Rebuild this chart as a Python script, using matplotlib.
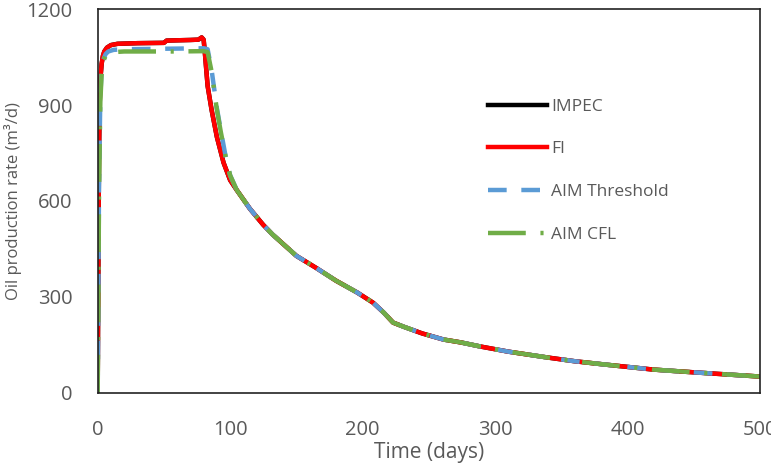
import numpy as np
import matplotlib
matplotlib.use("Agg")
import matplotlib.pyplot as plt

plt.rcParams['font.family'] = ['Open Sans', 'DejaVu Sans']

# shared decline tail (days, m3/d)
t_tail = [105, 115, 125, 132, 150, 165, 180, 196, 208, 216, 223, 231, 245, 261,
          274, 289, 310, 339, 360, 382, 419, 440, 462, 500]
v_tail = [634, 575, 525, 495, 428, 390, 350, 313, 281, 250, 219, 206, 185, 166,
          157, 144, 128, 110, 98, 88, 72, 66, 60, 50]

# IMPEC / FI head
t_fi = [0, 0.5, 1, 1.5, 2, 3, 4, 5, 7, 10, 15, 30, 50, 52, 60, 70, 76, 78.5,
        80, 81, 83, 86, 90, 95, 100]
v_fi = [0, 400, 750, 900, 980, 1030, 1055, 1068, 1080, 1088, 1092, 1094, 1095,
        1102, 1103, 1104, 1105, 1112, 1105, 1060, 960, 885, 800, 720, 665]

# AIM Threshold head
t_thr = [0, 0.5, 1, 2, 3, 4, 6, 8, 12, 20, 40, 60, 80, 83, 86, 88, 90, 93, 97, 100]
v_thr = [0, 300, 650, 930, 1010, 1040, 1060, 1068, 1073, 1075, 1076, 1077, 1078,
         1075, 1010, 950, 890, 820, 730, 680]

# AIM CFL head
t_cfl = [0, 0.5, 1, 2, 3, 4, 6, 8, 12, 20, 40, 60, 80, 83, 86, 88, 90, 93, 97, 100]
v_cfl = [0, 280, 620, 910, 1000, 1035, 1055, 1062, 1066, 1068, 1068, 1068, 1069,
         1066, 1005, 945, 885, 815, 730, 680]

labels = ['IMPEC', 'FI', 'AIM Threshold', 'AIM CFL']

fig, ax = plt.subplots(figsize=(7.71, 4.66), dpi=100)
fig.subplots_adjust(left=0.1267, right=0.9857, bottom=0.1577, top=0.98)

lw = 3.2
ax.plot(t_fi + t_tail, v_fi + v_tail, color='black', lw=lw, label=labels[0])
ax.plot(t_fi + t_tail, v_fi + v_tail, color='#FF0000', lw=lw, label=labels[1])
ax.plot(t_thr + t_tail, v_thr + v_tail, color='#5B9BD5', lw=lw,
        dashes=(4.2, 3.3), label=labels[2])
ax.plot(t_cfl + t_tail, v_cfl + v_tail, color='#70AD47', lw=lw,
        dashes=(8.5, 3.3, 0.7, 3.3), label=labels[3])

ax.set_xlim(0, 500)
ax.set_ylim(0, 1200)
ax.set_xticks(np.arange(0, 501, 100))
ax.set_yticks(np.arange(0, 1201, 300))
ax.tick_params(length=0, labelsize=14.5, labelcolor='#595959')
ax.tick_params(axis='x', pad=20)
ax.tick_params(axis='y', pad=18)
for s in ax.spines.values():
    s.set_color('#222222')
    s.set_linewidth(1.2)

ax.set_xlabel('Time (days)', fontsize=15, color='#595959', labelpad=1)
ax.set_ylabel('Oil production rate (m³/d)', fontsize=12, color='#595959', labelpad=3)

leg = ax.legend(loc='upper left', bbox_to_anchor=(0.5755, 0.79), frameon=False,
                fontsize=12.5, handlelength=3.45, handletextpad=0.2,
                labelspacing=1.53, borderpad=0)
for txt in leg.get_texts():
    txt.set_color('#595959')

fig.savefig('out.png', dpi=100)
